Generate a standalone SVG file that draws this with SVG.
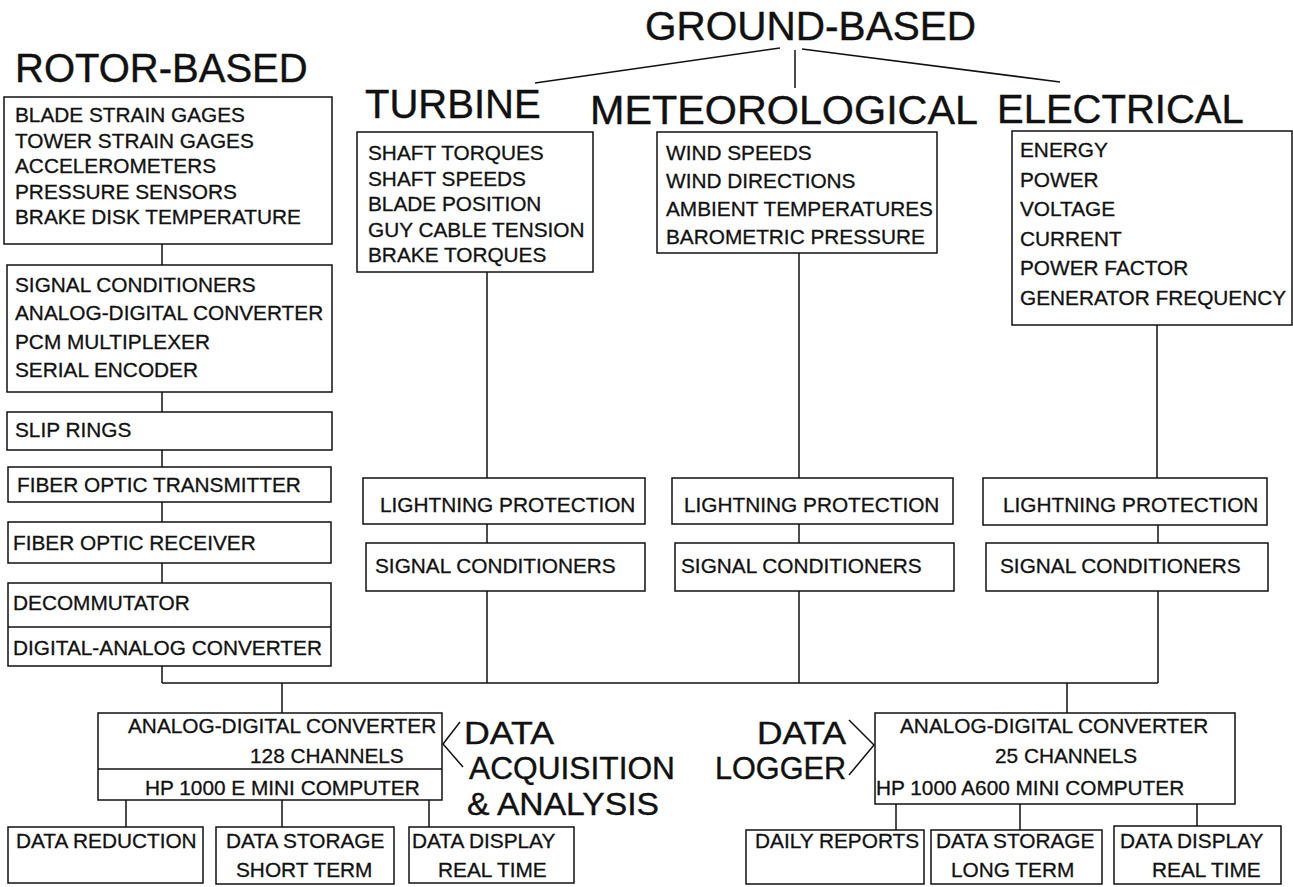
<svg xmlns="http://www.w3.org/2000/svg" width="1293" height="887" viewBox="0 0 1293 887">
<style>
rect.box{fill:#fff;stroke:#111;stroke-width:1.5}
line,polyline{stroke:#111;stroke-width:1.5;fill:none}
text{font-family:"Liberation Sans",Arial,sans-serif;fill:#111}
.t{font-size:20.8px;stroke:#111;stroke-width:0.3}
.h{font-size:40px;stroke:#111;stroke-width:0.4}
.m{font-size:31.5px;stroke:#111;stroke-width:0.4}
</style>
<rect width="1293" height="887" fill="#fff"/>
<g id="connectors">
<line x1="162" y1="244" x2="162" y2="265"/>
<line x1="162" y1="392" x2="162" y2="412"/>
<line x1="162" y1="450" x2="162" y2="467"/>
<line x1="162" y1="502" x2="162" y2="522"/>
<line x1="162" y1="563" x2="162" y2="583"/>
<line x1="162" y1="666" x2="162" y2="683"/>
<line x1="162" y1="683" x2="1158" y2="683"/>
<line x1="487" y1="272" x2="487" y2="478"/>
<line x1="487" y1="524" x2="487" y2="543"/>
<line x1="487" y1="591" x2="487" y2="683"/>
<line x1="799" y1="253" x2="799" y2="478"/>
<line x1="799" y1="524" x2="799" y2="543"/>
<line x1="799" y1="591" x2="799" y2="683"/>
<line x1="1157" y1="325" x2="1157" y2="478"/>
<line x1="1158" y1="525" x2="1158" y2="543"/>
<line x1="1158" y1="591" x2="1158" y2="683"/>
<line x1="282" y1="683" x2="282" y2="713"/>
<line x1="1067" y1="683" x2="1067" y2="713"/>
<line x1="126" y1="800" x2="126" y2="827"/>
<line x1="282" y1="800" x2="282" y2="827"/>
<line x1="429" y1="800" x2="429" y2="827"/>
<line x1="896" y1="804" x2="896" y2="830"/>
<line x1="1020" y1="804" x2="1020" y2="830"/>
<line x1="1197" y1="804" x2="1197" y2="826"/>
<line x1="780" y1="48" x2="535" y2="83"/>
<line x1="795" y1="50" x2="795" y2="88"/>
<line x1="802" y1="49" x2="1060" y2="82"/>
<polyline points="460,722 443,744 463,767"/>
<polyline points="849,720 874,745 849,775"/>
</g>
<g id="headings">
<text class="h" x="15" y="82">ROTOR-BASED</text>
<text class="h" x="645" y="40" textLength="331" lengthAdjust="spacingAndGlyphs">GROUND-BASED</text>
<text class="h" x="365" y="118">TURBINE</text>
<text class="h" x="590" y="124" textLength="388" lengthAdjust="spacingAndGlyphs">METEOROLOGICAL</text>
<text class="h" x="997" y="123">ELECTRICAL</text>
</g>
<g id="rotor-sensors">
<rect class="box" x="4" y="97" width="328" height="147"/>
<text class="t" x="15" y="122">BLADE STRAIN GAGES</text>
<text class="t" x="15" y="147.5">TOWER STRAIN GAGES</text>
<text class="t" x="15" y="173">ACCELEROMETERS</text>
<text class="t" x="15" y="198.5">PRESSURE SENSORS</text>
<text class="t" x="15" y="224">BRAKE DISK TEMPERATURE</text>
</g>
<g id="rotor-electronics">
<rect class="box" x="7" y="265" width="325" height="127"/>
<text class="t" x="15" y="291.5">SIGNAL CONDITIONERS</text>
<text class="t" x="15" y="320">ANALOG-DIGITAL CONVERTER</text>
<text class="t" x="15" y="348.5">PCM MULTIPLEXER</text>
<text class="t" x="15" y="377">SERIAL ENCODER</text>
</g>
<g id="slip-rings">
<rect class="box" x="7" y="412" width="325" height="38"/>
<text class="t" x="15" y="437">SLIP RINGS</text>
</g>
<g id="fiber-optic-transmitter">
<rect class="box" x="8" y="467" width="323" height="35"/>
<text class="t" x="17" y="492">FIBER OPTIC TRANSMITTER</text>
</g>
<g id="fiber-optic-receiver">
<rect class="box" x="8" y="522" width="323" height="41"/>
<text class="t" x="13" y="550">FIBER OPTIC RECEIVER</text>
</g>
<g id="decommutator">
<rect class="box" x="8" y="583" width="323" height="83"/>
<line x1="8" y1="627" x2="331" y2="627"/>
<text class="t" x="13" y="610">DECOMMUTATOR</text>
<text class="t" x="13" y="655">DIGITAL-ANALOG CONVERTER</text>
</g>
<g id="turbine">
<rect class="box" x="357" y="132" width="236" height="140"/>
<text class="t" x="368" y="160">SHAFT TORQUES</text>
<text class="t" x="368" y="185.5">SHAFT SPEEDS</text>
<text class="t" x="368" y="211">BLADE POSITION</text>
<text class="t" x="368" y="236.5">GUY CABLE TENSION</text>
<text class="t" x="368" y="262">BRAKE TORQUES</text>
</g>
<g id="meteorological">
<rect class="box" x="657" y="132" width="280" height="121"/>
<text class="t" x="666" y="160">WIND SPEEDS</text>
<text class="t" x="666" y="188">WIND DIRECTIONS</text>
<text class="t" x="666" y="216">AMBIENT TEMPERATURES</text>
<text class="t" x="666" y="244">BAROMETRIC PRESSURE</text>
</g>
<g id="electrical">
<rect class="box" x="1012" y="131" width="280" height="194"/>
<text class="t" x="1020" y="157">ENERGY</text>
<text class="t" x="1020" y="186.5">POWER</text>
<text class="t" x="1020" y="216">VOLTAGE</text>
<text class="t" x="1020" y="245.5">CURRENT</text>
<text class="t" x="1020" y="275">POWER FACTOR</text>
<text class="t" x="1020" y="304.5">GENERATOR FREQUENCY</text>
</g>
<g id="lightning-turbine">
<rect class="box" x="363" y="478" width="282" height="46"/>
<text class="t" x="380" y="512">LIGHTNING PROTECTION</text>
</g>
<g id="lightning-meteorological">
<rect class="box" x="672" y="478" width="281" height="46"/>
<text class="t" x="684" y="512">LIGHTNING PROTECTION</text>
</g>
<g id="lightning-electrical">
<rect class="box" x="983" y="478" width="284" height="47"/>
<text class="t" x="1003" y="512">LIGHTNING PROTECTION</text>
</g>
<g id="signal-turbine">
<rect class="box" x="366" y="543" width="279" height="48"/>
<text class="t" x="375" y="573">SIGNAL CONDITIONERS</text>
</g>
<g id="signal-meteorological">
<rect class="box" x="675" y="543" width="279" height="48"/>
<text class="t" x="681" y="573">SIGNAL CONDITIONERS</text>
</g>
<g id="signal-electrical">
<rect class="box" x="986" y="543" width="282" height="48"/>
<text class="t" x="1000" y="573">SIGNAL CONDITIONERS</text>
</g>
<g id="data-acquisition">
<rect class="box" x="98" y="713" width="344" height="87"/>
<line x1="98" y1="769" x2="442" y2="769"/>
<text class="t" x="128" y="733">ANALOG-DIGITAL CONVERTER</text>
<text class="t" x="250" y="763">128 CHANNELS</text>
<text class="t" x="145" y="795">HP 1000 E MINI COMPUTER</text>
</g>
<g id="data-acquisition-label">
<text class="m" x="464" y="744" textLength="90" lengthAdjust="spacingAndGlyphs">DATA</text>
<text class="m" x="469" y="779" textLength="206" lengthAdjust="spacingAndGlyphs">ACQUISITION</text>
<text class="m" x="467" y="815" textLength="192" lengthAdjust="spacingAndGlyphs">&amp; ANALYSIS</text>
</g>
<g id="data-logger-label">
<text class="m" x="757" y="744" textLength="89" lengthAdjust="spacingAndGlyphs">DATA</text>
<text class="m" x="715" y="779" textLength="131" lengthAdjust="spacingAndGlyphs">LOGGER</text>
</g>
<g id="data-logger">
<rect class="box" x="875" y="713" width="360" height="91"/>
<text class="t" x="900" y="733">ANALOG-DIGITAL CONVERTER</text>
<text class="t" x="995" y="763">25 CHANNELS</text>
<text class="t" x="876" y="795">HP 1000 A600 MINI COMPUTER</text>
</g>
<g id="data-reduction">
<rect class="box" x="8" y="827" width="195" height="56"/>
<text class="t" x="16" y="848">DATA REDUCTION</text>
</g>
<g id="data-storage-short">
<rect class="box" x="216" y="827" width="178" height="57"/>
<text class="t" x="226" y="848">DATA STORAGE</text>
<text class="t" x="236" y="877">SHORT TERM</text>
</g>
<g id="data-display-left">
<rect class="box" x="409" y="827" width="165" height="56"/>
<text class="t" x="412" y="848">DATA DISPLAY</text>
<text class="t" x="438" y="877">REAL TIME</text>
</g>
<g id="daily-reports">
<rect class="box" x="746" y="830" width="178" height="54"/>
<text class="t" x="755" y="848">DAILY REPORTS</text>
</g>
<g id="data-storage-long">
<rect class="box" x="931" y="830" width="171" height="54"/>
<text class="t" x="936" y="848">DATA STORAGE</text>
<text class="t" x="951" y="877">LONG TERM</text>
</g>
<g id="data-display-right">
<rect class="box" x="1114" y="826" width="167" height="58"/>
<text class="t" x="1120" y="848">DATA DISPLAY</text>
<text class="t" x="1152" y="877">REAL TIME</text>
</g>
</svg>
